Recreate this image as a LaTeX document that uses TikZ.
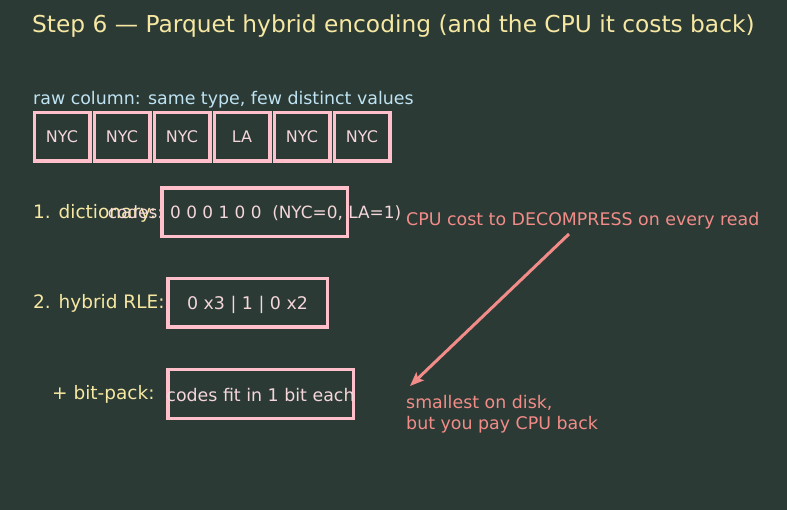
\documentclass[tikz,border=0pt]{standalone}
\usepackage{fontspec}
\setmainfont{DejaVu Sans}
\usetikzlibrary{arrows.meta}
\definecolor{bg}{HTML}{2B3A35}
\definecolor{head}{HTML}{F6E7A2}
\definecolor{sky}{HTML}{BFE3F2}
\definecolor{rose}{HTML}{FFC0CB}
\definecolor{roseText}{HTML}{F4D6DB}
\definecolor{salmon}{HTML}{F28C88}
\tikzset{>=Stealth,
  ttl/.style={text=head,font=\fontsize{23.3}{28}\selectfont,anchor=west,inner sep=0pt},
  lbl/.style={text=head,font=\fontsize{18.5}{22}\selectfont,anchor=west,inner sep=0pt},
  note/.style={font=\fontsize{17.4}{21}\selectfont,anchor=west,inner sep=0pt},
  cell/.style={draw=rose,line width=3.5pt,minimum width=55.5pt,minimum height=48.5pt,
    text=roseText,font=\fontsize{16}{19}\selectfont},
  codebox/.style={draw=rose,line width=3.5pt,minimum height=48.5pt,inner sep=0pt},
  codetxt/.style={text=roseText,font=\fontsize{17.4}{21}\selectfont,inner sep=0pt},
  cost/.style={draw=salmon,line width=3pt,-{Stealth[length=14pt,width=11pt,inset=3pt]}}}

\begin{document}
\begin{tikzpicture}[x=1pt,y=-1pt]
  \fill[bg] (0,0) rectangle (787,510);
  \useasboundingbox (0,0) rectangle (787,510);
  \node[ttl] (title) at (32,26) {Step 6 — Parquet hybrid encoding (and the CPU it costs back)};
  % raw column
  \node[note,text=sky] (raw) at (33,100) {raw column: same type, few distinct values};
  \foreach \city [count=\i] in {NYC,NYC,NYC,LA,NYC,NYC}
    \node[cell] (c\i) at ({2+60*\i},137) {\city};
  % encodings
  \node[lbl] (dictlbl) at (33,213) {1. dictionary:};
  \node[codetxt,font=\fontsize{16.9}{20}\selectfont] (dicttxt) at (254.5,213.5) {codes: 0 0 0 1 0 0~~(NYC=0, LA=1)};
  \node[codebox,minimum width=185.5pt] (dict) at (254.5,212.5) {};
  \node[lbl] (rlelbl) at (33,303) {2. hybrid RLE:};
  \node[codebox,minimum width=159.5pt] (rle) at (247.5,303) {};
  \node[codetxt] (rletxt) at ([yshift=-1.5pt]rle.center) {0 x3 | 1 | 0 x2};
  \node[lbl] (packlbl) at (52,394) {+ bit-pack:};
  \node[codebox,minimum width=185.5pt] (pack) at (260.5,394) {};
  \node[codetxt] (packtxt) at ([yshift=-1.5pt]pack.center) {codes fit in 1 bit each};
  % cost note
  \node[note,text=salmon] (cpu) at (406,221) {CPU cost to DECOMPRESS on every read};
  \node[note,text=salmon,align=left] (disk) at (406,414) {smallest on disk,\\but you pay CPU back};
  \coordinate (tail) at (569,234);
  \coordinate (tip) at (410,386);
  \draw[cost] (tail) -- (tip);
\end{tikzpicture}
\end{document}
